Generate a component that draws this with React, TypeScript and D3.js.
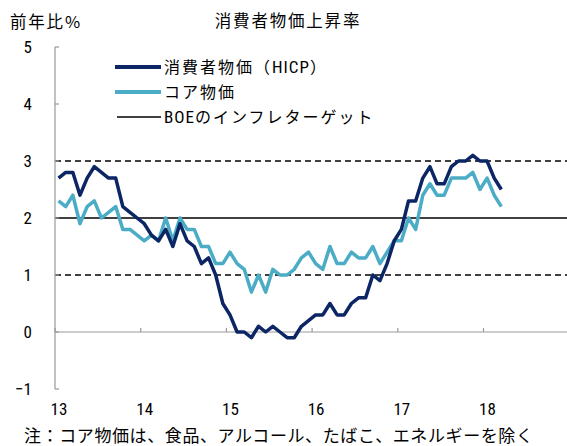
import React from 'react'
import * as d3 from 'd3'

// monthly y/y %, Jan 2013 - Mar 2018
const hicp = [
  2.7, 2.8, 2.8, 2.4, 2.7, 2.9, 2.8, 2.7, 2.7, 2.2, 2.1, 2.0,
  1.9, 1.7, 1.6, 1.8, 1.5, 1.9, 1.6, 1.5, 1.2, 1.3, 1.0, 0.5,
  0.3, 0.0, 0.0, -0.1, 0.1, 0.0, 0.1, 0.0, -0.1, -0.1, 0.1, 0.2,
  0.3, 0.3, 0.5, 0.3, 0.3, 0.5, 0.6, 0.6, 1.0, 0.9, 1.2, 1.6,
  1.8, 2.3, 2.3, 2.7, 2.9, 2.6, 2.6, 2.9, 3.0, 3.0, 3.1, 3.0,
  3.0, 2.7, 2.5,
]
const core = [
  2.3, 2.2, 2.4, 1.9, 2.2, 2.3, 2.0, 2.1, 2.2, 1.8, 1.8, 1.7,
  1.6, 1.7, 1.6, 2.0, 1.6, 2.0, 1.8, 1.8, 1.5, 1.5, 1.2, 1.2,
  1.4, 1.2, 1.1, 0.7, 1.0, 0.7, 1.1, 1.0, 1.0, 1.1, 1.3, 1.4,
  1.2, 1.1, 1.5, 1.2, 1.2, 1.4, 1.3, 1.3, 1.5, 1.2, 1.4, 1.6,
  1.6, 2.0, 1.8, 2.4, 2.6, 2.4, 2.4, 2.7, 2.7, 2.7, 2.8, 2.5,
  2.7, 2.4, 2.2,
]
const years = ['13', '14', '15', '16', '17', '18']
const yTicks = [-1, 0, 1, 2, 3, 4, 5]
const target = 2
const bandLines = [1, 3]

const jp = "'Noto Sans CJK JP', sans-serif"
const num = "'Liberation Sans Narrow', 'Roboto Condensed', 'Noto Sans CJK JP', sans-serif"

const legendItems = [
  { parts: [['消費者物価（', jp], ['HICP', num], ['）', jp]], color: '#0b2565', width: 4 },
  { parts: [['コア物価', jp]], color: '#4bacc6', width: 4 },
  { parts: [['BOE', num], ['のインフレターゲット', jp]], color: '#000', width: 1.5 },
]

export default function App() {
  const width = 567
  const height = 446
  const x = d3.scaleLinear().domain([0, 72]).range([55, 569.2])
  const y = d3.scaleLinear().domain([-1, 5]).range([389, 47])
  const xMid = (i: number) => x(i + 0.5)

  const line = d3.line<number>()
    .x((d, i) => xMid(i))
    .y(d => y(d))

  const axisColor = '#999'

  return (
    <svg width={width} height={height}
      style={{ position: 'absolute', left: 0, top: 0, background: '#fff' }}>
      {/* title */}
      <text x={288} y={27} textAnchor="middle" fontFamily={jp} fontSize={16.5}
        letterSpacing={1.8} fill="#000">消費者物価上昇率</text>
      <text x={10} y={28} fontFamily={jp} fontSize={16.5} letterSpacing={1.8}
        fill="#000">前年比%</text>

      {/* reference lines */}
      {bandLines.map(v => (
        <line key={v} x1={x(0)} x2={width} y1={y(v)} y2={y(v)}
          stroke="#000" strokeWidth={1.3} strokeDasharray="6,4" />
      ))}
      <line x1={x(0)} x2={width} y1={y(target)} y2={y(target)}
        stroke="#000" strokeWidth={1.5} />

      {/* y axis */}
      <line x1={x(0)} x2={x(0)} y1={y(-1)} y2={y(5)} stroke={axisColor} strokeWidth={1.2} />
      {yTicks.map(t => (
        <g key={t}>
          <line x1={x(0)} x2={x(0) + 4} y1={y(t)} y2={y(t)} stroke={axisColor} strokeWidth={1.2} />
          <text x={32} y={y(t)} dy="0.35em" textAnchor="end" fontFamily={num}
            fontSize={17} fill="#000">{t < 0 ? '\u2212' + Math.abs(t) : t}</text>
        </g>
      ))}

      {/* x axis at zero */}
      <line x1={x(0)} x2={width} y1={y(0)} y2={y(0)} stroke={axisColor} strokeWidth={1.2} />
      {years.map((yr, k) => (
        <g key={yr}>
          <line x1={x(k * 12)} x2={x(k * 12)} y1={y(0)} y2={y(0) - 4}
            stroke={axisColor} strokeWidth={1.2} />
          <text x={x(k * 12) + 4} y={415} textAnchor="middle" fontFamily={num}
            fontSize={17} fill="#000">{yr}</text>
        </g>
      ))}

      {/* series */}
      <path d={line(core) ?? ''} fill="none" stroke="#4bacc6" strokeWidth={3.5}
        strokeLinejoin="round" />
      <path d={line(hicp) ?? ''} fill="none" stroke="#0b2565" strokeWidth={3.5}
        strokeLinejoin="round" />

      {/* legend */}
      {legendItems.map((it, k) => (
        <g key={k} transform={`translate(115,${67 + k * 25})`}>
          <line x1={it.width > 2 ? 0 : 2} x2={46} y1={0} y2={0} stroke={it.color}
            strokeWidth={it.width} />
          <text x={49} y={0} dy="0.36em" fontSize={16} letterSpacing={2} fill="#000">
            {it.parts.map(([s, f], j) => (
              <tspan key={j} fontFamily={f} fontSize={f === num ? 17 : 16}
                letterSpacing={f === num ? 1 : 2}>{s}</tspan>
            ))}
          </text>
        </g>
      ))}

      {/* footnote */}
      <text x={24} y={442} fontFamily={jp} fontSize={17} letterSpacing={0.6}
        fill="#000">注：コア物価は、食品、アルコール、たばこ、エネルギーを除く</text>
    </svg>
  )
}
